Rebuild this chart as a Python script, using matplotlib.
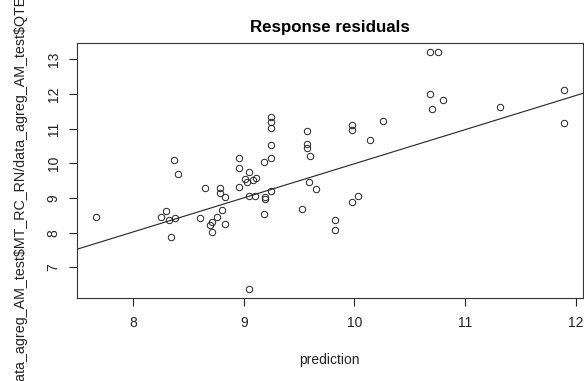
import matplotlib
matplotlib.use("Agg")
import matplotlib.pyplot as plt

prediction = [7.66, 8.25, 8.30, 8.32, 8.34, 8.37, 8.38, 8.40, 8.60, 8.65,
              8.69, 8.71, 8.71, 8.76, 8.78, 8.78, 8.80, 8.83, 8.83, 8.96,
              8.96, 8.96, 9.01, 9.03, 9.05, 9.05, 9.05, 9.08, 9.11, 9.10,
              9.18, 9.18, 9.19, 9.19, 9.25, 9.25, 9.25, 9.25, 9.25, 9.25,
              9.53, 9.57, 9.57, 9.57, 9.59, 9.60, 9.65, 9.82, 9.82, 9.98,
              9.98, 9.98, 10.03, 10.14, 10.26, 10.68, 10.76, 10.68, 10.70, 10.80,
              11.32, 11.90, 11.90]
observed = [8.46, 8.46, 8.62, 8.37, 7.89, 10.10, 8.43, 9.69, 8.42, 9.28,
            8.22, 8.31, 8.02, 8.45, 9.30, 9.14, 8.65, 9.02, 8.25, 10.16,
            9.86, 9.33, 9.54, 9.46, 9.75, 9.06, 6.37, 9.52, 9.58, 9.06,
            10.03, 8.55, 9.02, 8.98, 11.35, 11.20, 11.01, 10.53, 10.16, 9.21,
            8.69, 10.93, 10.56, 10.44, 9.47, 10.22, 9.25, 8.37, 8.09, 11.11,
            10.97, 8.88, 9.05, 10.68, 11.23, 13.20, 13.20, 11.99, 11.57, 11.82,
            11.63, 12.12, 11.16]

fit_intercept = 0.17
fit_slope = 0.982

x_ticks = [8, 9, 10, 11, 12]
y_ticks = [7, 8, 9, 10, 11, 12, 13]

plt.rcParams["font.family"] = ["Liberation Sans", "DejaVu Sans"]

fig = plt.figure(figsize=(5.84, 3.81), dpi=100)
ax = fig.add_axes([0.1313, 0.2178, 0.8667, 0.6693])

ax.plot(prediction, observed, "o", mfc="none", mec="#222222", ms=4.6, mew=0.7)
ax.axline((0, fit_intercept), slope=fit_slope, color="#222222", lw=0.8)

ax.set_xlim(7.488, 12.066)
ax.set_ylim(6.12, 13.47)
ax.set_xticks(x_ticks)
ax.set_yticks(y_ticks)
ax.set_yticklabels([str(v) for v in y_ticks], rotation=90, va="center")
ax.tick_params(direction="out", length=5.5, width=0.8, labelsize=10,
               colors="#222222")
ax.tick_params(axis="x", pad=7.5)
ax.tick_params(axis="y", pad=6)
for s in ax.spines.values():
    s.set_linewidth(0.8)
    s.set_color("#333333")

ax.set_title("Response residuals", fontsize=12.2, fontweight="bold", pad=8)
ax.set_xlabel("prediction", fontsize=10, labelpad=16.5, color="#222222")
fig.text(20 / 584, 0.497, r"data_agreg_AM_test\$MT_RC_RN/data_agreg_AM_test\$QTE",
         rotation=90, ha="center", va="center", fontsize=10.3, color="#222222")

fig.savefig("out.png", dpi=100)
